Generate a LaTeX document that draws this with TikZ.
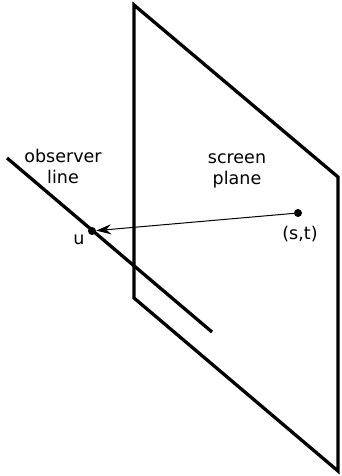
\documentclass[tikz,border=0pt]{standalone}
\usepackage{fontspec}
\setmainfont{DejaVu Sans}
\usetikzlibrary{arrows.meta}
\begin{document}
\begin{tikzpicture}[x=1pt,y=-1pt,
  heavy/.style={line width=3.3pt,line join=miter},
  lbl/.style={font=\fontsize{17.5}{21}\selectfont,align=center,inner sep=0pt},
  dotpt/.style={circle,fill=black,inner sep=0pt,minimum size=8pt}]
\useasboundingbox (0,0) rectangle (341,476);
\coordinate (p1) at (134,5);
\coordinate (p2) at (338,177);
\coordinate (p3) at (338,471);
\coordinate (p4) at (134,298);
\draw[heavy] (p1) -- (p2) -- (p3) -- (p4) -- cycle;
\coordinate (o1) at (7,158);
\coordinate (o2) at (212,332);
\draw[heavy] (o1) -- (o2);
\node[dotpt] (u) at (92,231) {};
\node[dotpt] (st) at (298,213) {};
\draw[line width=1pt,-{Stealth[length=15pt,width=10pt,inset=5pt]}] (st) -- (u);
\node[lbl] (ul) at (79,240) {u};
\node[lbl] (stl) at (300,234) {(s,t)};
\node[lbl] (obs) at (63,166) {observer\\line};
\node[lbl] (scr) at (237,171) {screen\\plane};
\end{tikzpicture}
\end{document}
